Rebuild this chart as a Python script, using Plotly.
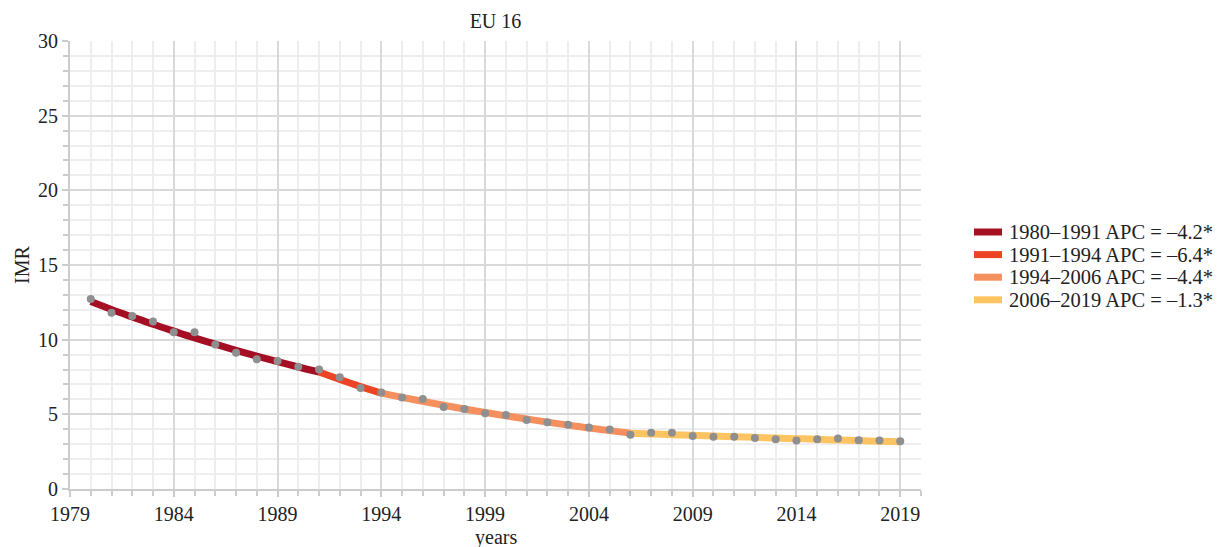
import plotly.graph_objects as go

# Observed infant mortality rate (per 1000 live births), EU 16
years = list(range(1980, 2020))
imr = [12.73, 11.81, 11.59, 11.21, 10.49, 10.49, 9.67, 9.13, 8.69, 8.57,
       8.19, 8.01, 7.48, 6.76, 6.46, 6.12, 6.03, 5.49, 5.36, 5.07,
       4.96, 4.62, 4.47, 4.31, 4.11, 3.98, 3.64, 3.77, 3.77, 3.55,
       3.50, 3.50, 3.42, 3.33, 3.24, 3.33, 3.39, 3.26, 3.24, 3.19]

# Joinpoint segments: fitted values at each year of the segment
seg_labels = ["1980–1991 APC = –4.2*", "1991–1994 APC = –6.4*",
              "1994–2006 APC = –4.4*", "2006–2019 APC = –1.3*"]
seg_years = [list(range(1980, 1992)), list(range(1991, 1995)),
             list(range(1994, 2007)), list(range(2006, 2020))]
seg_fit = [
    [12.55, 12.02, 11.52, 11.03, 10.57, 10.12, 9.70, 9.29, 8.90, 8.53, 8.17, 7.83],
    [7.83, 7.33, 6.86, 6.42],
    [6.42, 6.14, 5.87, 5.61, 5.36, 5.13, 4.90, 4.69, 4.48, 4.28, 4.09, 3.91, 3.74],
    [3.74, 3.69, 3.64, 3.60, 3.55, 3.50, 3.46, 3.41, 3.37, 3.33, 3.28, 3.24, 3.20, 3.16],
]
seg_colors = ["#a50f24", "#ee4426", "#f58f5e", "#fec462"]

x_ticks = list(range(1979, 2020, 5))
y_ticks = list(range(0, 31, 5))

FONT = "Liberation Serif, Times New Roman, serif"
W, H = 1223, 547
ML, MR, MT, MB = 70, 302, 41, 58
PW, PH = W - ML - MR, H - MT - MB


def px_x(px):
    """Horizontal pixel position -> paper coordinate."""
    return (px - ML) / PW


def px_y(py):
    """Vertical pixel position (from top) -> paper coordinate."""
    return (H - MB - py) / PH


fig = go.Figure()
for lab, xs, ys, col in zip(seg_labels, seg_years, seg_fit, seg_colors):
    fig.add_trace(go.Scatter(
        x=xs, y=ys, mode="lines", name=lab, showlegend=False,
        line=dict(color=col, width=7, shape="spline"),
        hoverinfo="skip",
    ))

fig.add_trace(go.Scatter(
    x=years, y=imr, mode="markers", showlegend=False,
    marker=dict(color="#8f8f8f", size=8),
))

# Legend: coloured line swatch + label for each segment
shapes, annotations = [], []
for i, (lab, col) in enumerate(zip(seg_labels, seg_colors)):
    yy = px_y(232 + i * 22.6)
    shapes.append(dict(type="line", xref="paper", yref="paper",
                       x0=px_x(974), x1=px_x(1002), y0=yy, y1=yy,
                       line=dict(color=col, width=7)))
    annotations.append(dict(text=lab, xref="paper", yref="paper",
                            x=px_x(1007), y=yy, xanchor="left",
                            yanchor="middle", showarrow=False,
                            font=dict(size=20.5, color="#222222")))

annotations.append(dict(text="IMR", xref="paper", yref="paper",
                        x=px_x(22), y=0.5, textangle=-90, showarrow=False,
                        xanchor="center", yanchor="middle",
                        font=dict(size=20, color="#222222")))
annotations.append(dict(text="years", xref="paper", yref="paper",
                        x=0.5, y=px_y(537), showarrow=False,
                        xanchor="center", yanchor="middle",
                        font=dict(size=20, color="#222222")))

fig.update_layout(
    width=W, height=H,
    margin=dict(l=ML, r=MR, t=MT, b=MB),
    paper_bgcolor="white", plot_bgcolor="white",
    font=dict(family=FONT, size=20, color="#222222"),
    title=dict(text="EU 16", x=(ML + PW / 2) / W, xanchor="center",
               y=1 - 21 / H, yanchor="middle", font=dict(size=20)),
    showlegend=False,
    shapes=shapes,
    annotations=annotations,
)

fig.update_xaxes(
    range=[1979, 2020], tickmode="array", tickvals=x_ticks,
    ticktext=[str(v) for v in x_ticks], automargin=False,
    showgrid=True, gridcolor="#d9d9d9", gridwidth=1.5,
    showline=True, linecolor="#cccccc", linewidth=2,
    ticks="outside", ticklen=6, tickcolor="#cccccc", tickwidth=2,
    minor=dict(dtick=1, tick0=1979, showgrid=True, gridcolor="#eeeeee",
               gridwidth=1.5, ticks="outside", ticklen=5,
               tickcolor="#cccccc", tickwidth=1.5),
    zeroline=False,
)

fig.update_yaxes(
    range=[0, 30], tickmode="array", tickvals=y_ticks, automargin=False,
    showgrid=True, gridcolor="#d9d9d9", gridwidth=1.5,
    showline=True, linecolor="#cccccc", linewidth=2,
    ticks="outside", ticklen=6, tickcolor="#cccccc", tickwidth=2,
    minor=dict(dtick=1, tick0=0, showgrid=True, gridcolor="#eeeeee",
               gridwidth=1.5, ticks="outside", ticklen=5,
               tickcolor="#cccccc", tickwidth=1.5),
    zeroline=False,
)

fig.write_html("out.html")
